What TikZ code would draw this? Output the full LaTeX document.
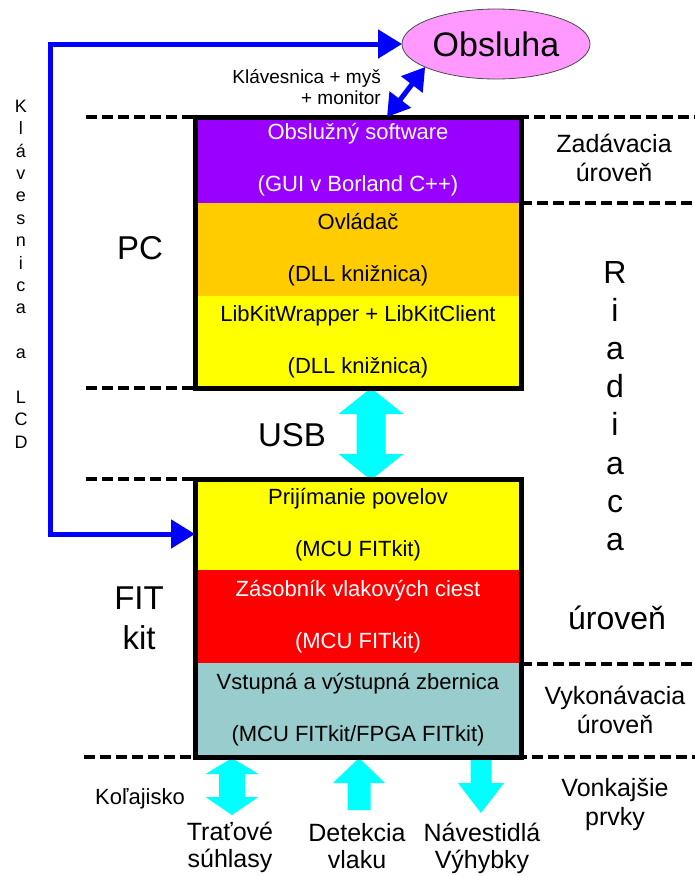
\documentclass[tikz,border=0pt]{standalone}
\usepackage{fontspec}
\setmainfont{Liberation Sans}
\usetikzlibrary{arrows.meta,shapes.geometric}
\definecolor{cPurple}{HTML}{9900FF}
\definecolor{cOrange}{HTML}{FFCC00}
\definecolor{cYellow}{HTML}{FFFF00}
\definecolor{cRed}{HTML}{FF0000}
\definecolor{cTeal}{HTML}{99CCCC}
\definecolor{cPink}{HTML}{FF99FF}
\definecolor{cCyan}{HTML}{00FFFF}
\definecolor{cBlue}{HTML}{0000FF}
\tikzset{
  sec/.style={minimum width=326pt, inner sep=0pt, outer sep=0pt, align=center, anchor=north, font=\fontsize{22}{26}\selectfont},
  sepline/.style={line width=4.5pt, dash pattern=on 11pt off 5pt},
  fat/.style={fill=cCyan},
  blueline/.style={draw=cBlue, line width=5pt},
  big/.style={font=\fontsize{33}{40}\selectfont, inner sep=0pt, align=center},
  side/.style={font=\fontsize{25}{29}\selectfont, align=center, inner sep=0pt},
  bottomlab/.style={font=\fontsize{25}{27}\selectfont, align=center, inner sep=0pt},
  boxborder/.style={line width=5pt, draw=black}
}
\begin{document}
\begin{tikzpicture}[x=1pt,y=-1pt]
\useasboundingbox (0,0) rectangle (695,876);

% separator lines
\draw[sepline] (86,117) -- (695,117);
\draw[sepline] (521,203) -- (695,203);
\draw[sepline] (86,388) -- (195,388);
\draw[sepline] (86,479) -- (195,479);
\draw[sepline] (521,664) -- (695,664);
\draw[sepline] (84,757) -- (695,757);

% anchor points for the fat arrows
\coordinate (usbtop) at (371,388);
\coordinate (ar1) at (232,758);
\coordinate (ar2) at (359,758);
\coordinate (ar3) at (481,757);

% USB double arrow
\begin{scope}[shift={(usbtop)}]
\fill[fat] (0,0) -- (32.5,26) -- (14.5,26) -- (14.5,66) -- (32.5,66) -- (0,92)
  -- (-32.5,66) -- (-14.5,66) -- (-14.5,26) -- (-32.5,26) -- cycle;
\end{scope}
% bottom arrows
\begin{scope}[shift={(ar1)}]
\fill[fat] (0,0) -- (26.5,16) -- (13,16) -- (13,39) -- (26.5,39) -- (0,57)
  -- (-26.5,39) -- (-13,39) -- (-13,16) -- (-26.5,16) -- cycle;
\end{scope}
\begin{scope}[shift={(ar2)}]
\fill[fat] (0,0) -- (26,25) -- (11.5,25) -- (11.5,52) -- (-11.5,52) -- (-11.5,25) -- (-26,25) -- cycle;
\end{scope}
\begin{scope}[shift={(ar3)}]
\fill[fat] (-10.5,0) -- (10.5,0) -- (10.5,26) -- (23,26) -- (0,56) -- (-23,26) -- (-10.5,26) -- cycle;
\end{scope}

% PC box sections
\node[sec, fill=cPurple, text=white, minimum height=86pt] (s1) at (358,117) {Obslužný software\\[26pt](GUI v Borland C++)};
\node[sec, fill=cOrange, minimum height=93pt] (s2) at (s1.south) {Ovládač\\[26pt](DLL knižnica)};
\node[sec, fill=cYellow, minimum height=92pt] (s3) at (s2.south) {LibKitWrapper + LibKitClient\\[26pt](DLL knižnica)};
\draw[boxborder] (s1.north west) rectangle (s3.south east);

% FIT box sections
\node[sec, fill=cYellow, minimum height=91pt] (f1) at (358,479) {Prijímanie povelov\\[26pt](MCU FITkit)};
\node[sec, fill=cRed, text=white, minimum height=93pt] (f2) at (f1.south) {Zásobník vlakových ciest\\[26pt](MCU FITkit)};
\node[sec, fill=cTeal, minimum height=94pt] (f3) at (f2.south) {Vstupná a výstupná zbernica\\[26pt](MCU FITkit/FPGA FITkit)};
\draw[boxborder] (f1.north west) rectangle (f3.south east);

% Obsluha
\node[ellipse, draw=gray!60!black, line width=0.8pt, fill=cPink, minimum width=188pt, minimum height=70pt,
  inner sep=0pt, outer sep=0pt, font=\fontsize{34}{40}\selectfont] (obs) at (496,44) {Obsluha};

% blue connections
\coordinate (lc) at (50,534);
\coordinate (fitin) at (195,534);
\coordinate (pctop) at (387,117);
\draw[blueline, {Triangle[length=24pt,width=28pt]}-{Triangle[length=24pt,width=28pt]}] (obs.west) -| (lc) -- (fitin);
\draw[blueline, {Triangle[length=22pt,width=26pt]}-{Triangle[length=22pt,width=26pt]}] (pctop) -- (obs.198);

\node[font=\fontsize{19}{21}\selectfont, align=right, inner sep=0pt, anchor=east] (kbd) at (381,87) {Klávesnica + myš\\+ monitor};

% left labels
\node[font=\fontsize{18}{22.4}\selectfont, align=center, inner sep=0pt] (klcd) at (21,274)
  {K\\l\\á\\v\\e\\s\\n\\i\\c\\a\\[22.4pt]a\\[22.4pt]L\\C\\D};
\node[big] (pcl) at (140,248) {PC};
\node[big] (usbl) at (292,435) {USB};
\node[big] (fitl) at (139,618) {FIT\\kit};

% right labels
\node[side] (zad) at (614,158) {Zadávacia\\úroveň};
\node[font=\fontsize{32}{38.1}\selectfont, align=center, inner sep=0pt] (riad) at (615,406) {R\\i\\a\\d\\i\\a\\c\\a};
\node[font=\fontsize{32}{38}\selectfont, inner sep=0pt] (urov) at (617,618) {úroveň};
\node[side] (vyk) at (615,710) {Vykonávacia\\úroveň};
\node[side] (von) at (615,804) {Vonkajšie\\prvky};

% bottom labels
\node[font=\fontsize{22}{26}\selectfont, inner sep=0pt] (kol) at (140,799) {Koľajisko};
\node[bottomlab] (trat) at (230,847) {Traťové\\súhlasy};
\node[bottomlab] (det) at (357,846) {Detekcia\\vlaku};
\node[bottomlab] (nav) at (482,848) {Návestidlá\\Výhybky};
\end{tikzpicture}
\end{document}
